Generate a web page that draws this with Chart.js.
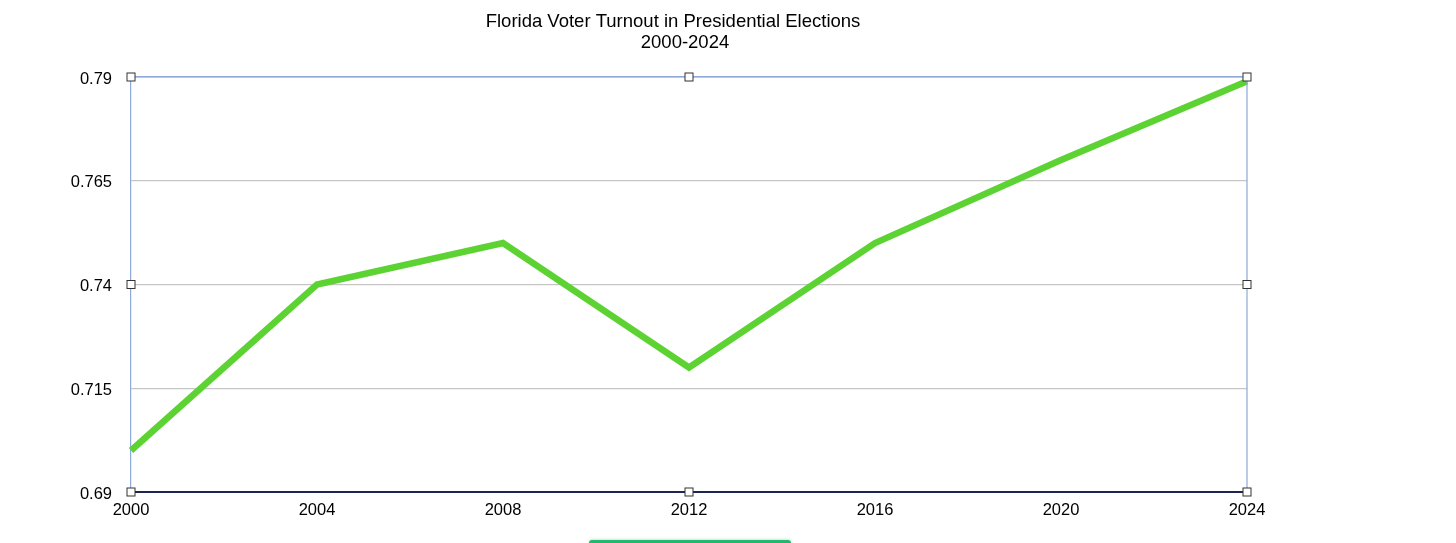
<!DOCTYPE html>
<html>
<head>
<meta charset="utf-8">
<script src="https://cdn.jsdelivr.net/npm/chart.js@4"></script>
<style>
html,body{margin:0;padding:0;background:#fff;overflow:hidden}
#wrap{position:relative;width:1456px;height:543px}
#bar{position:absolute;left:589px;top:540px;width:202px;height:6px;border-radius:4px;background:#22b96c;box-shadow:0 -1px 3px #c8e8d6}
</style>
</head>
<body>
<div id="wrap"><canvas id="turnout" width="1456" height="543"></canvas><div id="bar"></div></div>
<script>
const years=['2000','2004','2008','2012','2016','2020','2024'];
const turnout=[0.700,0.740,0.750,0.720,0.750,0.770,0.789];
const yTicks=[0.69,0.715,0.74,0.765,0.79];
const titleLines=['Florida Voter Turnout in Presidential Elections','2000-2024'];

const blue='#8eaad8',navy='#1c2452',grey='#c6c6c6';
const fam='"Liberation Sans", Arial, sans-serif';

/* título a mano: las dos líneas no van centradas igual */
const heading={
  id:'heading',
  afterDraw(c){
    const {left,right}=c.chartArea,x=c.ctx,mx=(left+right)/2;
    x.save();
    x.fillStyle='#000';x.font='18.5px '+fam;x.textAlign='center';x.textBaseline='middle';
    x.fillText(titleLines[0],mx-16,22);
    x.fillText(titleLines[1],mx-4,43);
    x.restore();
  }
};

/* marco azul + asas de selección */
const frame={
  id:'frame',
  afterDatasetsDraw(c){
    const {left,right,top,bottom}=c.chartArea,x=c.ctx;
    x.save();
    x.strokeStyle=blue;x.lineWidth=1.2;
    x.beginPath();x.moveTo(left,top);x.lineTo(right,top);x.moveTo(right,top);x.lineTo(right,bottom);x.stroke();
    x.strokeStyle=navy;x.lineWidth=2;
    x.beginPath();x.moveTo(left,bottom);x.lineTo(right,bottom);x.stroke();
    const mx=(left+right)/2,my=(top+bottom)/2;
    const pts=[[left,top],[mx,top],[right,top],[left,my],[right,my],[left,bottom],[mx,bottom],[right,bottom]];
    x.fillStyle='#fff';x.strokeStyle='#333';x.lineWidth=1;
    pts.forEach(([px,py])=>{x.fillRect(px-4,py-4,8,8);x.strokeRect(px-4,py-4,8,8);});
    x.restore();
  }
};

new Chart(document.getElementById('turnout'),{
  type:'line',
  data:{labels:years,datasets:[{data:turnout,borderColor:'#5cd332',borderWidth:6.5,pointRadius:0,tension:0,fill:false}]},
  plugins:[frame,heading],
  options:{
    responsive:false,animation:false,
    layout:{padding:{left:0,right:209,top:77,bottom:0}},
    plugins:{legend:{display:false},tooltip:{enabled:false},title:{display:false}},
    scales:{
      x:{
        afterFit:s=>{s.height=51;},
        grid:{display:false,drawTicks:false},
        border:{display:false},
        ticks:{color:'#000',padding:9,maxRotation:0,autoSkip:false,font:{family:fam,size:16.5}}
      },
      y:{
        min:0.69,max:0.79,
        afterFit:s=>{s.width=131;},
        afterBuildTicks:s=>{s.ticks=yTicks.map(v=>({value:v}));},
        grid:{color:c=>c.tick&&c.tick.value>=0.79?blue:grey,drawTicks:false,lineWidth:1.2},
        border:{color:blue,width:1.2},
        ticks:{color:'#000',padding:19,labelOffset:2,callback:v=>String(+(+v).toFixed(3)),font:{family:fam,size:16.5}}
      }
    }
  }
});
</script>
</body>
</html>
